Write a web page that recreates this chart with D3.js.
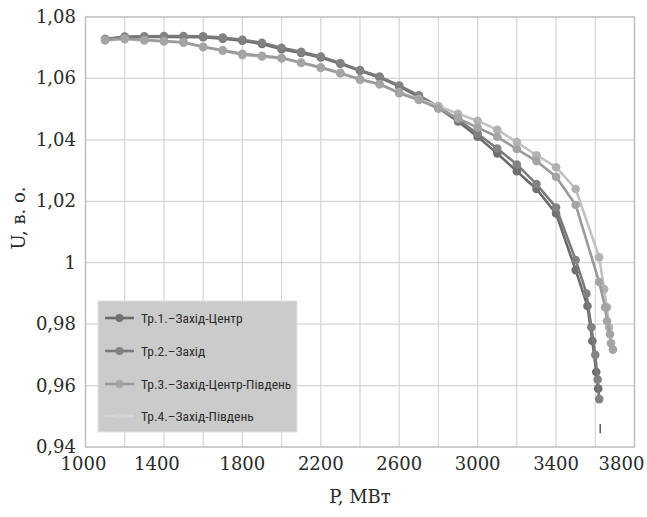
<!DOCTYPE html>
<html>
<head>
<meta charset="utf-8">
<script src="https://cdn.jsdelivr.net/npm/d3@7"></script>
<style>
  body { margin: 0; background: #fff; }
  svg { display: block; }
</style>
</head>
<body>
<div id="chart"></div>
<script>
// values
const seriesNames = ["Тр.1.–Захід-Центр", "Тр.2.–Захід", "Тр.3.–Захід-Центр-Південь", "Тр.4.–Захід-Південь"];

const pBase = [1100, 1200, 1300, 1400, 1500, 1600, 1700, 1800, 1900, 2000, 2100, 2200, 2300,
  2400, 2500, 2600, 2700, 2800, 2900, 3000, 3100, 3200, 3300, 3400, 3500];

const pTr1 = pBase.concat([3560, 3585, 3605, 3615]);
const uTr1 = [1.0728, 1.0734, 1.0735, 1.0736, 1.0735, 1.0734, 1.0729, 1.0723, 1.0712, 1.0695, 1.0683,
  1.0668, 1.0648, 1.0625, 1.0603, 1.0574, 1.0540, 1.0503, 1.0460, 1.0410, 1.0356, 1.0298, 1.0240,
  1.0160, 0.9976, 0.9859, 0.9745, 0.9644, 0.9590];

const pTr2 = pBase.concat([3555, 3580, 3600, 3612, 3620]);
const uTr2 = [1.0728, 1.0736, 1.0737, 1.0738, 1.0738, 1.0737, 1.0733, 1.0726, 1.0716, 1.0700, 1.0687,
  1.0671, 1.0650, 1.0627, 1.0606, 1.0577, 1.0545, 1.0508, 1.0466, 1.0420, 1.0372, 1.0320, 1.0256,
  1.0180, 1.0009, 0.9900, 0.9790, 0.9700, 0.9620, 0.9556];

const pTr3 = pBase.concat([3620, 3650, 3660, 3675, 3680, 3690]);
const uTr3 = [1.0725, 1.0730, 1.0725, 1.0722, 1.0718, 1.0703, 1.0692, 1.0680, 1.0674, 1.0667, 1.0652,
  1.0636, 1.0618, 1.0597, 1.0582, 1.0552, 1.0530, 1.0502, 1.0470, 1.0440, 1.0410, 1.0370, 1.0331,
  1.0280, 1.0188, 0.9937, 0.9855, 0.9810, 0.9767, 0.9738, 0.9717];

const pTr4 = pBase.concat([3620, 3645, 3660, 3670]);
const uTr4 = [1.0724, 1.0728, 1.0724, 1.0720, 1.0716, 1.0702, 1.0690, 1.0676, 1.0671, 1.0665, 1.0650,
  1.0634, 1.0616, 1.0596, 1.0580, 1.0555, 1.0533, 1.0510, 1.0485, 1.0462, 1.0433, 1.0393, 1.0350,
  1.0311, 1.0240, 1.0018, 0.9914, 0.9855, 0.9790];

const xTicks = [1000, 1400, 1800, 2200, 2600, 3000, 3400, 3800];
const yTicks = [0.94, 0.96, 0.98, 1.00, 1.02, 1.04, 1.06, 1.08];
const yTickLabels = ["0,94", "0,96", "0,98", "1", "1,02", "1,04", "1,06", "1,08"];

const series = [
  { name: seriesNames[0], p: pTr1, u: uTr1, line: "#6a6a6a", dot: "#707070" },
  { name: seriesNames[1], p: pTr2, u: uTr2, line: "#7a7a7a", dot: "#828282" },
  { name: seriesNames[3], p: pTr4, u: uTr4, line: "#c2c2c2", dot: "#b2b2b2" },
  { name: seriesNames[2], p: pTr3, u: uTr3, line: "#9a9a9a", dot: "#a4a4a4" }
];

const width = 647, height = 517;
const svg = d3.select("#chart").append("svg")
  .attr("width", width)
  .attr("height", height);

const x = d3.scaleLinear().domain([1000, 3800]).range([85.5, 634.5]);
const y = d3.scaleLinear().domain([0.94, 1.08]).range([447, 17]);

// grid
svg.append("g").selectAll("line")
  .data(d3.range(1000, 3801, 200))
  .join("line")
  .attr("x1", d => x(d)).attr("x2", d => x(d))
  .attr("y1", y(1.08)).attr("y2", y(0.94))
  .attr("stroke", "#d6d6d6").attr("stroke-width", 1.2);

svg.append("g").selectAll("line")
  .data(yTicks)
  .join("line")
  .attr("x1", x(1000)).attr("x2", x(3800))
  .attr("y1", d => y(d)).attr("y2", d => y(d))
  .attr("stroke", "#d6d6d6").attr("stroke-width", 1.2);

// frame
svg.append("rect")
  .attr("x", x(1000)).attr("y", y(1.08))
  .attr("width", x(3800) - x(1000))
  .attr("height", y(0.94) - y(1.08))
  .attr("fill", "none")
  .attr("stroke", "#bdbdbd")
  .attr("stroke-width", 1.3);

// tick labels
const serif = "'DejaVu Serif', 'Liberation Serif', serif";
svg.append("g").selectAll("text")
  .data(yTicks)
  .join("text")
  .attr("x", 76)
  .attr("y", d => y(d) + 6)
  .attr("text-anchor", "end")
  .attr("font-family", serif)
  .attr("font-size", 18)
  .attr("fill", "#2a2a2a")
  .text((d, i) => yTickLabels[i]);

svg.append("g").selectAll("text")
  .data(xTicks)
  .join("text")
  .attr("x", d => x(d) + (d === 3800 ? -13 : d === 1400 ? -7 : d === 1000 ? -2 : 0))
  .attr("y", 470)
  .attr("text-anchor", "middle")
  .attr("font-family", serif)
  .attr("font-size", 18)
  .attr("fill", "#2a2a2a")
  .text(d => d);

// axis titles
svg.append("text")
  .attr("x", 360).attr("y", 503)
  .attr("text-anchor", "middle")
  .attr("font-family", serif)
  .attr("font-size", 18)
  .attr("fill", "#2a2a2a")
  .text("P, МВт");

svg.append("text")
  .attr("transform", "translate(25,218) rotate(-90)")
  .attr("text-anchor", "middle")
  .attr("font-family", serif)
  .attr("font-size", 18)
  .attr("fill", "#2a2a2a")
  .text("U, в. о.");

// series
const line = d3.line()
  .x(d => x(d[0]))
  .y(d => y(d[1]));

series.forEach(s => {
  const pts = s.p.map((p, i) => [p, s.u[i]]);
  const g = svg.append("g");
  g.append("path")
    .datum(pts)
    .attr("d", line)
    .attr("fill", "none")
    .attr("stroke", s.line)
    .attr("stroke-width", 2.6)
    .attr("stroke-linejoin", "round");
  g.selectAll("circle")
    .data(pts)
    .join("circle")
    .attr("cx", d => x(d[0]))
    .attr("cy", d => y(d[1]))
    .attr("r", 4.3)
    .attr("fill", s.dot);
});

// small dark stroke under the last points
svg.append("line")
  .attr("x1", x(3625)).attr("x2", x(3625))
  .attr("y1", y(0.9475)).attr("y2", y(0.9445))
  .attr("stroke", "#333").attr("stroke-width", 1.2);

// legend
const legend = svg.append("g");
legend.append("rect")
  .attr("x", 98).attr("y", 301)
  .attr("width", 199).attr("height", 131)
  .attr("fill", "#cbcbcb")
  .attr("stroke", "#e2e2e2");

const legendItems = [
  { name: seriesNames[0], line: "#6a6a6a", dot: "#707070", r: 4 },
  { name: seriesNames[1], line: "#7a7a7a", dot: "#828282", r: 4 },
  { name: seriesNames[2], line: "#9a9a9a", dot: "#a4a4a4", r: 4 },
  { name: seriesNames[3], line: "#d6d6d6", dot: "#d2d2d2", r: 3 }
];
const rowY = [318, 351, 384, 416];

legendItems.forEach((s, i) => {
  legend.append("line")
    .attr("x1", 105).attr("x2", 134)
    .attr("y1", rowY[i]).attr("y2", rowY[i])
    .attr("stroke", s.line).attr("stroke-width", 2.6);
  legend.append("circle")
    .attr("cx", 119.5).attr("cy", rowY[i])
    .attr("r", s.r).attr("fill", s.dot);
  legend.append("text")
    .attr("x", 141).attr("y", rowY[i] + 5)
    .attr("font-family", "'Liberation Sans Narrow', 'Roboto Condensed', 'Liberation Sans', sans-serif")
    .attr("font-size", 13.5)
    .attr("fill", "#2c2c2c")
    .text(s.name);
});
</script>
</body>
</html>
